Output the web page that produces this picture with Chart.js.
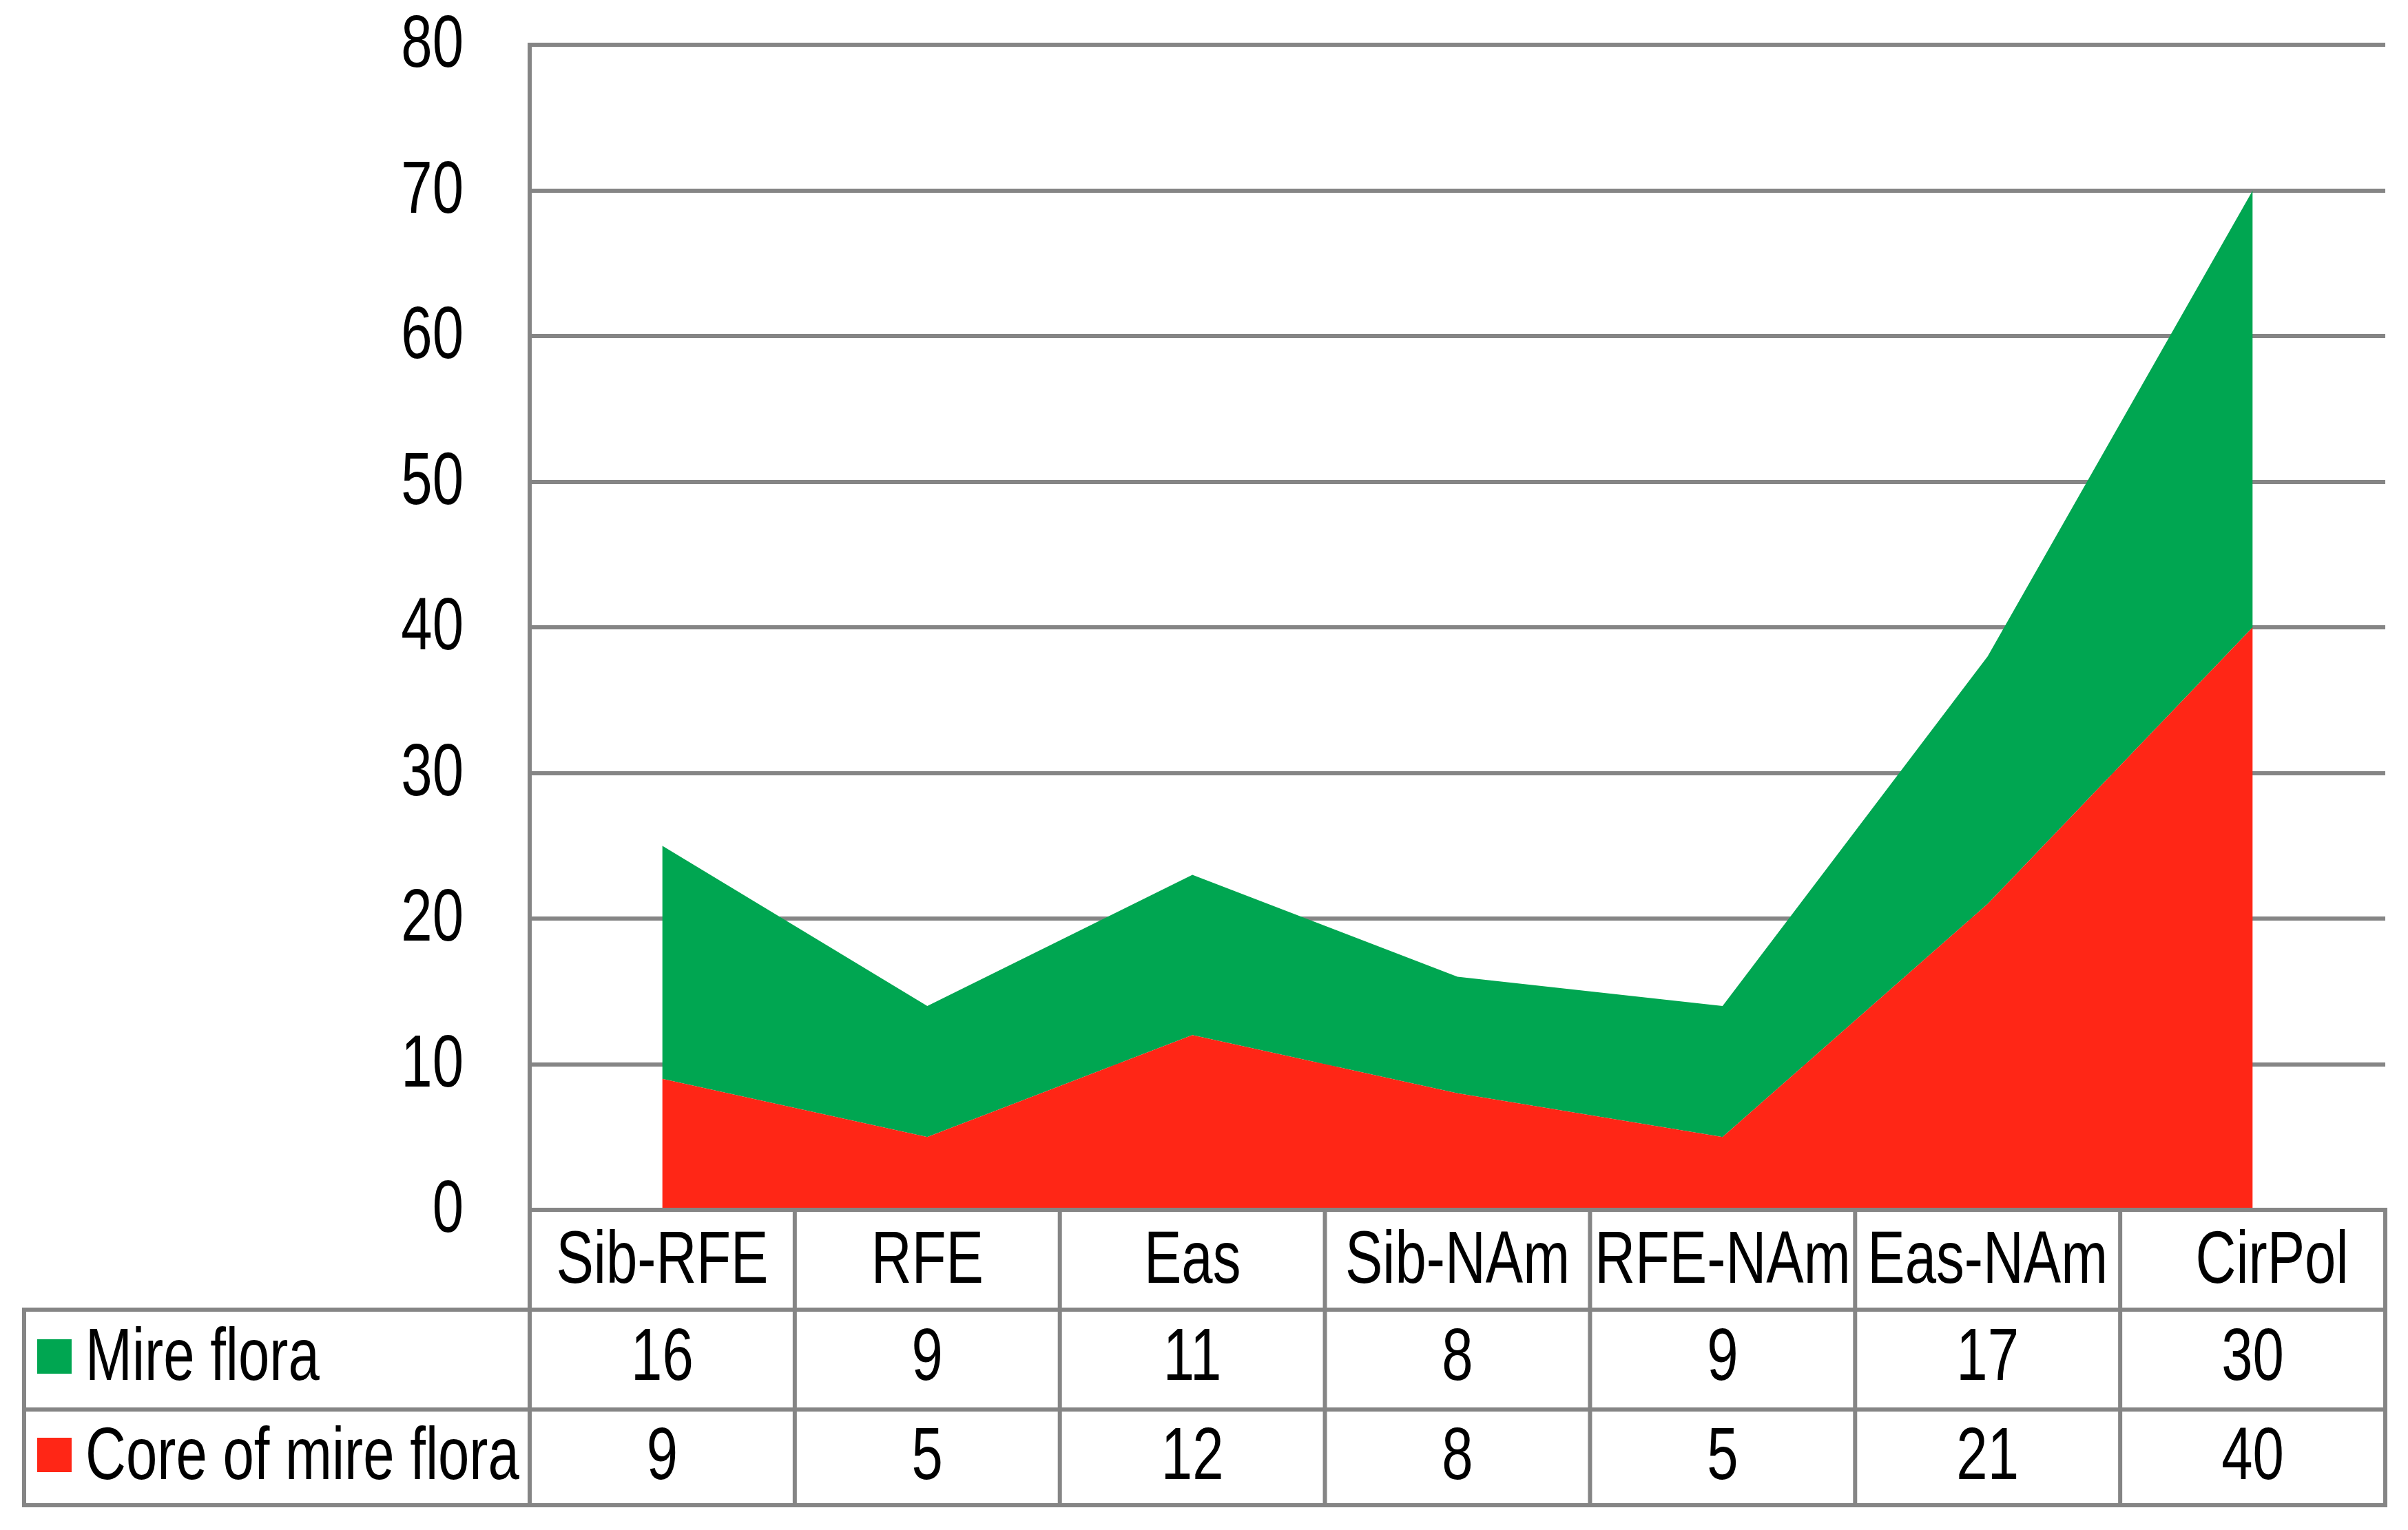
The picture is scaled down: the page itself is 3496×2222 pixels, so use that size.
<!DOCTYPE html>
<html>
<head>
<meta charset="utf-8">
<script src="https://cdn.jsdelivr.net/npm/chart.js@4/dist/chart.umd.min.js"></script>
<style>
html,body{margin:0;padding:0;background:#fff;}
canvas{display:block;}
</style>
</head>
<body>
<canvas id="c" width="3496" height="2222"></canvas>
<script>
// ---- data ----
const categories = ['Sib-RFE', 'RFE', 'Eas', 'Sib-NAm', 'RFE-NAm', 'Eas-NAm', 'CirPol'];
const mireFlora = [16, 9, 11, 8, 9, 17, 30];
const coreOfMireFlora = [9, 5, 12, 8, 5, 21, 40];
const seriesNames = ['Mire flora', 'Core of mire flora'];
const yMin = 0, yMax = 80, yStep = 10;

// ---- styles ----
const FONT = '"Liberation Sans", Arial, sans-serif';
const FONT_SIZE = 108;
const SX = 0.755; // horizontal condensation (narrow face look)
const GREEN = '#00A651';
const RED = '#FF2616';
const GRID = '#858585';
const LINE_W = 6;

function narrowText(ctx, text, x, y, align) {
  ctx.save();
  ctx.translate(x, y);
  ctx.scale(SX, 1);
  ctx.textAlign = align;
  ctx.textBaseline = 'alphabetic';
  ctx.fillText(text, 0, 0);
  ctx.restore();
}

const tablePlugin = {
  id: 'dataTable',
  afterDraw(chart) {
    const ctx = chart.ctx;
    const area = chart.chartArea;
    const x = chart.scales.x;
    const y = chart.scales.y;
    const n = categories.length;
    const cw = x.getPixelForValue(1) - x.getPixelForValue(0);
    const left = x.getPixelForValue(0) - cw / 2;
    const right = x.getPixelForValue(n - 1) + cw / 2;
    const labelLeft = 35;
    const rowH = [145, 145, 139];
    const r0 = area.bottom;
    const r1 = r0 + rowH[0];
    const r2 = r1 + rowH[1];
    const r3 = r2 + rowH[2];

    ctx.save();
    ctx.strokeStyle = GRID;
    ctx.lineWidth = LINE_W;
    ctx.lineCap = 'square';
    ctx.beginPath();
    ctx.moveTo(left, r0); ctx.lineTo(right, r0);
    ctx.moveTo(labelLeft, r1); ctx.lineTo(right, r1);
    ctx.moveTo(labelLeft, r2); ctx.lineTo(right, r2);
    ctx.moveTo(labelLeft, r3); ctx.lineTo(right, r3);
    ctx.moveTo(area.left, area.top); ctx.lineTo(area.left, r3);
    ctx.moveTo(labelLeft, r1); ctx.lineTo(labelLeft, r3);
    for (let i = 1; i <= n; i++) {
      const bx = left + i * cw;
      ctx.moveTo(bx, r0); ctx.lineTo(bx, r3);
    }
    ctx.stroke();

    ctx.fillStyle = '#000';
    ctx.font = FONT_SIZE + 'px ' + FONT;

    // y tick labels from the library's scale
    y.ticks.forEach(t => {
      const py = y.getPixelForValue(t.value);
      narrowText(ctx, String(t.value), area.left - 96, py + 32, 'right');
    });

    for (let i = 0; i < n; i++) {
      const cx = x.getPixelForValue(i);
      narrowText(ctx, categories[i], cx + (i === n - 1 ? 28 : 0), r0 + 106, 'center');
      narrowText(ctx, String(mireFlora[i]), cx, r1 + 102, 'center');
      narrowText(ctx, String(coreOfMireFlora[i]), cx, r2 + 101, 'center');
    }
    ctx.fillStyle = GREEN;
    ctx.fillRect(54, r1 + 43, 50, 50);
    ctx.fillStyle = RED;
    ctx.fillRect(54, r2 + 41, 50, 50);
    ctx.fillStyle = '#000';
    narrowText(ctx, seriesNames[0], 124, r1 + 102, 'left');
    narrowText(ctx, seriesNames[1], 124, r2 + 101, 'left');
    ctx.restore();
  }
};

new Chart(document.getElementById('c'), {
  type: 'line',
  data: {
    labels: categories,
    datasets: [
      {
        label: seriesNames[1],
        data: coreOfMireFlora,
        backgroundColor: RED,
        borderWidth: 0,
        pointRadius: 0,
        fill: 'origin',
        tension: 0
      },
      {
        label: seriesNames[0],
        data: mireFlora,
        backgroundColor: GREEN,
        borderWidth: 0,
        pointRadius: 0,
        fill: '-1',
        tension: 0
      }
    ]
  },
  options: {
    responsive: false,
    animation: false,
    devicePixelRatio: 1,
    layout: { padding: { left: 0, top: 65, right: 33, bottom: 465 } },
    plugins: { legend: { display: false }, tooltip: { enabled: false } },
    scales: {
      x: {
        type: 'category',
        offset: true,
        display: false
      },
      y: {
        stacked: true,
        min: yMin,
        max: yMax,
        afterFit(scale) { scale.width = 769; scale.paddingTop = 0; scale.paddingBottom = 0; },
        ticks: { stepSize: yStep, display: false },
        grid: { color: GRID, lineWidth: LINE_W, drawTicks: false },
        border: { display: true, color: GRID, width: LINE_W }
      }
    }
  },
  plugins: [tablePlugin]
});
</script>
</body>
</html>
